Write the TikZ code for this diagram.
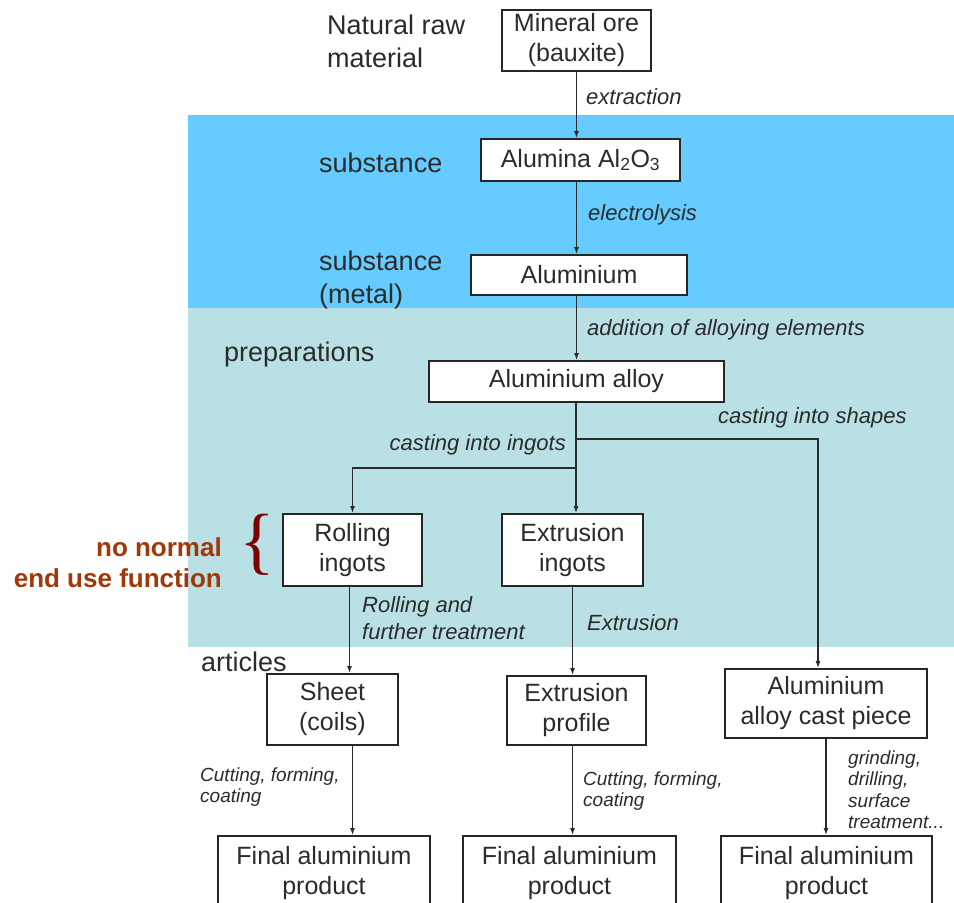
\documentclass[tikz,border=0pt]{standalone}
\usepackage{fontspec}
\setmainfont{Liberation Sans}
\newfontfamily\bracefont{Liberation Serif}
\usetikzlibrary{arrows.meta,calc,positioning}
\definecolor{bandblue}{HTML}{66CCFF}
\definecolor{bandteal}{HTML}{B9E0E4}
\definecolor{txtgray}{HTML}{2B2B2B}
\definecolor{notered}{HTML}{A0380A}
\definecolor{bracered}{HTML}{7F0000}
\newcommand{\boxtextfont}{\fontsize{25}{30}\selectfont}
\newcommand{\lvltextfont}{\fontsize{27}{33}\selectfont}
\newcommand{\steptextfont}{\fontsize{22}{27}\selectfont\itshape}
\newcommand{\smalltextfont}{\fontsize{19}{21.5}\selectfont\itshape}
\tikzset{
    boxsty/.style={draw=black!85,line width=1.8pt,fill=white,rectangle,align=center,font=\boxtextfont,text=txtgray,inner sep=2pt},
    lvlsty/.style={anchor=west,align=left,inner sep=0pt,font=\lvltextfont,text=txtgray},
    stepsty/.style={anchor=west,align=left,inner sep=0pt,font=\steptextfont,text=txtgray},
    smallsty/.style={anchor=west,align=left,inner sep=0pt,font=\smalltextfont,text=txtgray},
    arrsty/.style={->,line width=1.2pt,draw=txtgray},
    notesty/.style={anchor=east,align=right,inner sep=0pt,font=\fontsize{26}{31}\selectfont\bfseries,text=notered},
}

\begin{document}
\begin{tikzpicture}[x=1pt,y=-1pt,>={Latex[length=7pt,width=5pt]}]
  \clip (0,0) rectangle (954,903);

  % level bands
  \fill[bandblue] (188,115) rectangle (954,308);
  \fill[bandteal] (188,308) rectangle (954,647);

  % level names
  \node[lvlsty] (natlbl)  at (327,41.5) {Natural raw\\material};
  \node[lvlsty] (sublbl)  at (319,163) {substance};
  \node[lvlsty] (metlbl)  at (319,280) {substance\\(metal)};
  \node[lvlsty] (preplbl) at (224,355) {preparations};
  \node[lvlsty] (artlbl)  at (201,662) {articles};

  % process boxes
  \node[boxsty,minimum width=149,minimum height=61] (ore)     at (576.5,40.5) {Mineral ore\\(bauxite)};
  \node[boxsty,minimum width=199,minimum height=42] (alumina) at (580.5,160) {Alumina Al\textsubscript{2}O\textsubscript{3}};
  \node[boxsty,minimum width=216,minimum height=40] (alu)     at (579,275) {Aluminium};
  \node[boxsty,minimum width=295,minimum height=41] (alloy)   at (576.5,381.5) {Aluminium alloy};
  \node[boxsty,minimum width=139,minimum height=72] (rolling) at (352.5,550) {Rolling\\ingots};
  \node[boxsty,minimum width=141,minimum height=72] (exingot) at (572.5,550) {Extrusion\\ingots};
  \node[boxsty,minimum width=131,minimum height=71] (sheet)   at (332.5,709.5) {Sheet\\(coils)};
  \node[boxsty,minimum width=139,minimum height=69] (profile) at (576.5,710.5) {Extrusion\\profile};
  \node[boxsty,minimum width=202,minimum height=69] (cast)    at (826,703.5) {Aluminium\\alloy cast piece};
  \node[boxsty,minimum width=212,minimum height=75] (final1)  at (324,873.5) {Final aluminium\\product};
  \node[boxsty,minimum width=213,minimum height=75] (final2)  at (569.5,873.5) {Final aluminium\\product};
  \node[boxsty,minimum width=211,minimum height=75] (final3)  at (826.5,873.5) {Final aluminium\\product};

  % split points below the alloy
  \coordinate (shapesplit) at (576,439);
  \coordinate (ingotsplit) at (576,468);

  % connectors
  \draw[arrsty] (ore.south) -- (ore.south |- alumina.north);
  \draw[arrsty] (alumina.south -| ore.south) -- (alu.north -| ore.south);
  \draw[arrsty] (alu.south -| ore.south) -- (alloy.north -| ore.south);
  \draw[arrsty] (alloy.south -| ingotsplit) -- (ingotsplit) -| (rolling.north);
  \draw[arrsty] (ingotsplit) -- (ingotsplit |- exingot.north);
  \draw[arrsty] (shapesplit) -| ([xshift=-8pt]cast.north);
  \draw[arrsty] ([xshift=-3pt]rolling.south) -- ([xshift=-3pt]rolling.south |- sheet.north);
  \draw[arrsty] (exingot.south) -- (exingot.south |- profile.north);
  \draw[arrsty] (sheet.south -| rolling.south) -- (final1.north -| rolling.south);
  \draw[arrsty] (profile.south -| exingot.south) -- (final2.north -| exingot.south);
  \draw[arrsty] (cast.south) -- (cast.south |- final3.north);

  % step labels
  \node[stepsty] (extrlbl)  at (586,97) {extraction};
  \node[stepsty] (elecLbl)  at (588,215) {electrolysis};
  \node[stepsty] (addlbl)   at (587,330) {addition of alloying elements};
  \node[stepsty] (shapelbl) at (718,418) {casting into shapes};
  \node[stepsty,anchor=east] (ingotlbl) at (566,445) {casting into ingots};
  \node[stepsty] (rolllbl)  at (362,618.5) {Rolling and\\further treatment};
  \node[stepsty] (extlbl)   at (587,623) {Extrusion};
  \node[smallsty] (cut1lbl) at (200,787) {Cutting, forming,\\coating};
  \node[smallsty] (cut2lbl) at (583,791) {Cutting, forming,\\coating};
  \node[smallsty] (grindlbl) at (848,789.5) {grinding,\\drilling,\\surface\\treatment...};

  % remark on the ingots
  \node[inner sep=0pt,text=bracered,font=\bracefont\fontsize{74}{74}\selectfont] (bracenode) at (257,545) {\{};
  \node[notesty] (notelbl) at (222,562.5) {no normal\\end use function};
\end{tikzpicture}
\end{document}
